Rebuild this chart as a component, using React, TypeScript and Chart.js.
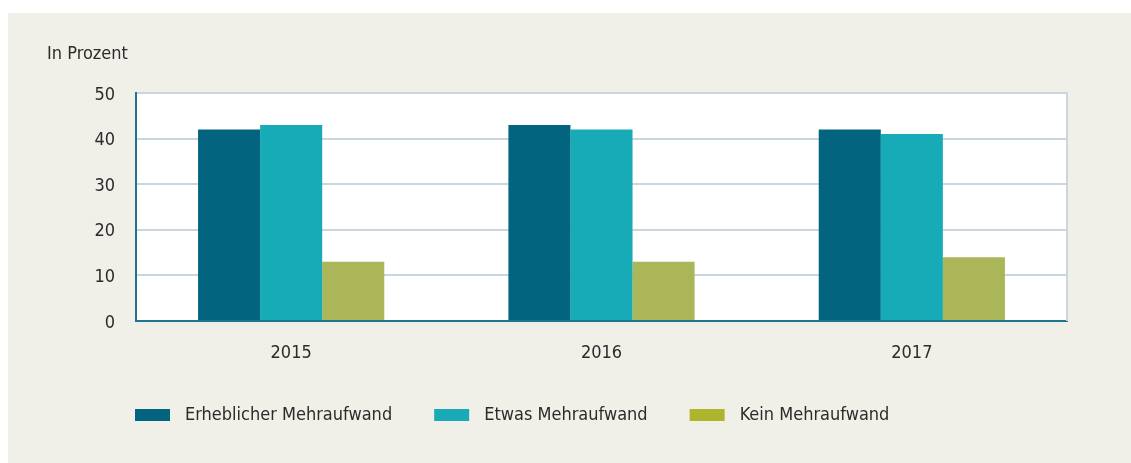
import React, { useEffect, useRef } from "react";
import { Chart, registerables } from "chart.js";

Chart.register(...registerables);

const categories = ["2015", "2016", "2017"];
const seriesLabels = ["Erheblicher Mehraufwand", "Etwas Mehraufwand", "Kein Mehraufwand"];
const erheblich = [42, 43, 42];
const etwas = [43, 42, 41];
const kein = [13, 13, 14];
const yTicks = [0, 10, 20, 30, 40, 50];
const unitLabel = "In Prozent";

const barColors = ["#02647f", "#17abb8", "#abb658"];
const legendColors = ["#02647f", "#19aab8", "#adb52c"];
const FONT = "'Liberation Sans Narrow', 'Arial Narrow', 'DejaVu Sans Condensed', sans-serif";
const TEXT = "#2b2b2b";
const FS = 18;

export default function App() {
  const ref = useRef<HTMLCanvasElement | null>(null);

  useEffect(() => {
    if (!ref.current) return;
    const extras = {
      id: "extras",
      beforeDraw(chart: any) {
        const { ctx, chartArea } = chart;
        ctx.save();
        ctx.fillStyle = "#ffffff";
        ctx.fillRect(chartArea.left, chartArea.top, chartArea.right - chartArea.left, chartArea.bottom - chartArea.top);
        ctx.restore();
      },
      beforeDatasetsDraw(chart: any) {
        const { ctx, chartArea } = chart;
        ctx.save();
        ctx.strokeStyle = "#c9d6de";
        ctx.lineWidth = 2;
        ctx.beginPath();
        ctx.moveTo(chartArea.right, chartArea.top - 1);
        ctx.lineTo(chartArea.right, chartArea.bottom);
        ctx.stroke();
        ctx.restore();
      },
      afterDraw(chart: any) {
        const { ctx, chartArea } = chart;
        ctx.save();
        ctx.font = `${FS}px ${FONT}`;
        ctx.fillStyle = TEXT;
        ctx.textBaseline = "middle";
        ctx.textAlign = "left";
        ctx.fillText(unitLabel, 39, 41);
        // legend
        let x = chartArea.left - 1;
        const y = 402;
        chart.data.datasets.forEach((ds: any, i: number) => {
          ctx.fillStyle = legendColors[i];
          ctx.fillRect(x, y - 6, 35, 12);
          x += 35 + 15;
          ctx.fillStyle = TEXT;
          ctx.fillText(ds.label, x, y);
          x += ctx.measureText(ds.label).width + 42;
        });
        ctx.restore();
      },
    };

    const chart = new Chart(ref.current, {
      type: "bar",
      data: {
        labels: categories,
        datasets: [
          { label: seriesLabels[0], data: erheblich, backgroundColor: barColors[0] },
          { label: seriesLabels[1], data: etwas, backgroundColor: barColors[1] },
          { label: seriesLabels[2], data: kein, backgroundColor: barColors[2] },
        ],
      },
      options: {
        animation: false,
        responsive: false,
        maintainAspectRatio: false,
        layout: { padding: { left: 0, top: 80, right: 64, bottom: 0 } },
        datasets: { bar: { categoryPercentage: 0.6, barPercentage: 1.0 } },
        plugins: { legend: { display: false }, title: { display: false }, tooltip: { enabled: false } },
        scales: {
          x: {
            grid: { display: false, drawTicks: false },
            border: { display: true, color: "#1d7590", width: 2 },
            ticks: { color: TEXT, font: { family: FONT, size: FS }, padding: 22 },
            afterFit: (s: any) => { s.height = 142; },
          },
          y: {
            min: 0,
            max: 50,
            afterBuildTicks: (s: any) => { s.ticks = yTicks.map((v) => ({ value: v })); },
            grid: { color: "#c9d6de", lineWidth: 2, drawTicks: false },
            border: { display: true, color: "#1d7590", width: 2 },
            ticks: { color: TEXT, font: { family: FONT, size: FS }, padding: 21, labelOffset: 2 },
            afterFit: (s: any) => { s.width = 128; },
          },
        },
      },
      plugins: [extras],
    });
    return () => chart.destroy();
  }, []);

  return (
    <div style={{ position: "fixed", left: 8, top: 13, width: 1123, height: 450, background: "#f0efe8" }}>
      <canvas ref={ref} width={1123} height={450} style={{ display: "block" }} />
    </div>
  );
}
